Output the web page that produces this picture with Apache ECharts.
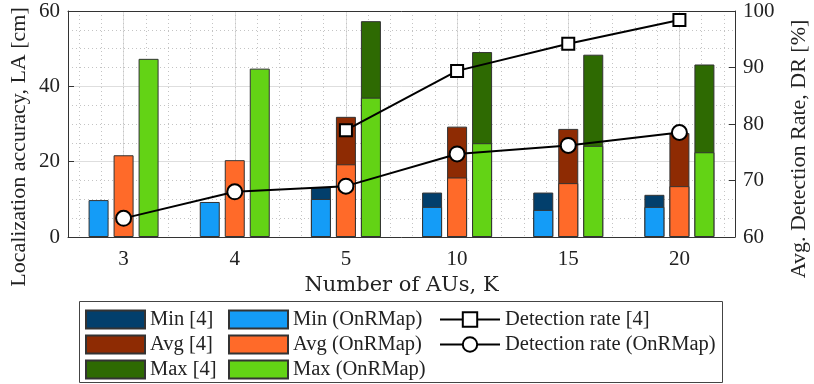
<!DOCTYPE html>
<html>
<head>
<meta charset="utf-8">
<script src="https://cdn.jsdelivr.net/npm/echarts@6/dist/echarts.min.js"></script>
<style>
  html, body { margin: 0; padding: 0; background: #fff; }
  #main { width: 814px; height: 384px; }
</style>
</head>
<body>
<div id="main"></div>
<script>
// 数据
var categories = ['3', '4', '5', '10', '15', '20'];
var min4  = [null, null, 13.2, 11.8, 11.8, 11.2];
var avg4  = [null, null, 31.9, 29.3, 28.7, 27.6];
var max4  = [null, null, 57.3, 49.1, 48.4, 45.8];
var minOn = [9.8, 9.3, 10.1, 8.0, 7.2, 8.0];
var avgOn = [21.7, 20.4, 19.3, 15.8, 14.3, 13.5];
var maxOn = [47.3, 44.7, 37.0, 24.9, 24.2, 22.5];
var dr4   = [null, null, 78.9, 89.4, 94.2, 98.4];
var drOn  = [63.3, 68.0, 69.0, 74.7, 76.2, 78.5];
var leftTicks  = [0, 20, 40, 60];
var rightTicks = [60, 70, 80, 90, 100];

var FONT = 'Liberation Serif';
var AXIS = '#333';

// 次网格用的辅助类目（每类目5格）
var minorCats = [];
for (var i = 0; i < categories.length * 5; i++) { minorCats.push(i); }

var myChart = echarts.init(document.getElementById('main'));

function barSeries(name, data, color, axisIdx) {
    return {
        name: name,
        type: 'bar',
        xAxisIndex: axisIdx,
        yAxisIndex: 0,
        data: data,
        barWidth: 20,
        barGap: '25%',
        z: axisIdx === 0 ? 2 : 3,
        itemStyle: { color: color, borderColor: '#333', borderWidth: 1 }
    };
}

function legendBox(names, left, width, icon) {
    var l = {
        data: names,
        orient: 'vertical', left: left, top: 309, height: 80, padding: 0,
        itemWidth: width, itemHeight: 18, itemGap: 4, selectedMode: false,
        textStyle: { fontFamily: FONT, fontSize: 20.5, color: '#222' }
    };
    if (icon) { l.icon = icon; }
    return l;
}

var option = {
    animation: false,
    grid: { left: 68, right: 79, top: 11, bottom: 147, containLabel: false },
    xAxis: [
        {
            type: 'category',
            data: categories,
            position: 'bottom',
            name: 'Number of AUs, K',
            nameLocation: 'middle',
            nameGap: 34,
            nameTextStyle: { fontFamily: 'DejaVu Serif', fontSize: 21, color: '#222' },
            axisLine: { lineStyle: { color: AXIS, width: 1 } },
            axisTick: { inside: true, alignWithLabel: true, length: 6, lineStyle: { color: AXIS } },
            axisLabel: { fontFamily: FONT, fontSize: 21, color: '#222', margin: 12 },
            splitLine: { show: true, alignWithLabel: true, lineStyle: { color: '#dedede', width: 1 } }
        },
        {
            type: 'category',
            data: categories,
            position: 'top',
            axisLine: { lineStyle: { color: AXIS, width: 1 } },
            axisTick: { inside: true, alignWithLabel: true, length: 6, lineStyle: { color: AXIS } },
            axisLabel: { show: false },
            splitLine: { show: false }
        },
        {
            type: 'category',
            data: minorCats,
            position: 'bottom',
            axisLine: { show: false },
            axisTick: { show: false },
            axisLabel: { show: false },
            splitLine: { show: true, alignWithLabel: true, lineStyle: { color: '#c4c4c4', width: 1, type: [1, 3] } }
        }
    ],
    yAxis: [
        {
            type: 'value',
            min: leftTicks[0],
            max: leftTicks[leftTicks.length - 1],
            interval: 20,
            axisLine: { show: true, lineStyle: { color: AXIS, width: 1 } },
            axisTick: { show: true, inside: true, length: 6, lineStyle: { color: AXIS } },
            axisLabel: { fontFamily: FONT, fontSize: 21, color: '#222', margin: 8 },
            splitLine: { show: true, lineStyle: { color: '#dedede', width: 1 } },
            minorTick: { show: false, splitNumber: 4 },
            minorSplitLine: { show: true, lineStyle: { color: '#c4c4c4', width: 1, type: [1, 3] } }
        },
        {
            type: 'value',
            position: 'right',
            min: rightTicks[0],
            max: rightTicks[rightTicks.length - 1],
            interval: 10,
            axisLine: { show: true, lineStyle: { color: AXIS, width: 1 } },
            axisTick: { show: true, inside: true, length: 6, lineStyle: { color: AXIS } },
            axisLabel: { fontFamily: FONT, fontSize: 21, color: '#222', margin: 8 },
            splitLine: { show: false }
        }
    ],
    legend: [
        legendBox(['Min [4]', 'Avg [4]', 'Max [4]'], 85, 59, 'rect'),
        legendBox(['Min (OnRMap)', 'Avg (OnRMap)', 'Max (OnRMap)'], 228, 59, 'rect'),
        legendBox(['Detection rate [4]', 'Detection rate (OnRMap)'], 439, 60, null)
    ],
    graphic: [
        // 图例外框
        { type: 'rect', shape: { x: 79.5, y: 301.5, width: 643, height: 81 },
          style: { fill: 'none', stroke: '#444', lineWidth: 1 }, silent: true },
        // 纵轴标题
        { type: 'text', x: 19, y: 147, rotation: Math.PI / 2,
          style: { text: 'Localization accuracy, LA [cm]', fontFamily: FONT, fontSize: 22,
                   fill: '#222', align: 'center', verticalAlign: 'middle' } },
        { type: 'text', x: 799, y: 149, rotation: Math.PI / 2,
          style: { text: 'Avg. Detection Rate, DR [%]', fontFamily: FONT, fontSize: 22,
                   fill: '#222', align: 'center', verticalAlign: 'middle' } }
    ],
    series: [
        barSeries('Min [4]', min4, '#023f6c', 0),
        barSeries('Avg [4]', avg4, '#8e2b03', 0),
        barSeries('Max [4]', max4, '#2e6a02', 0),
        barSeries('Min (OnRMap)', minOn, '#149cf7', 1),
        barSeries('Avg (OnRMap)', avgOn, '#ff6a29', 1),
        barSeries('Max (OnRMap)', maxOn, '#63d315', 1),
        {
            name: 'Detection rate [4]',
            type: 'line',
            xAxisIndex: 0,
            yAxisIndex: 1,
            data: dr4,
            z: 10,
            symbol: 'rect',
            symbolSize: 12,
            lineStyle: { color: '#000', width: 2 },
            itemStyle: { color: '#fff', borderColor: '#000', borderWidth: 2 }
        },
        {
            name: 'Detection rate (OnRMap)',
            type: 'line',
            xAxisIndex: 0,
            yAxisIndex: 1,
            data: drOn,
            z: 10,
            symbol: 'circle',
            symbolSize: 15,
            lineStyle: { color: '#000', width: 2 },
            itemStyle: { color: '#fff', borderColor: '#000', borderWidth: 2 }
        }
    ]
};

myChart.setOption(option);
</script>
</body>
</html>
